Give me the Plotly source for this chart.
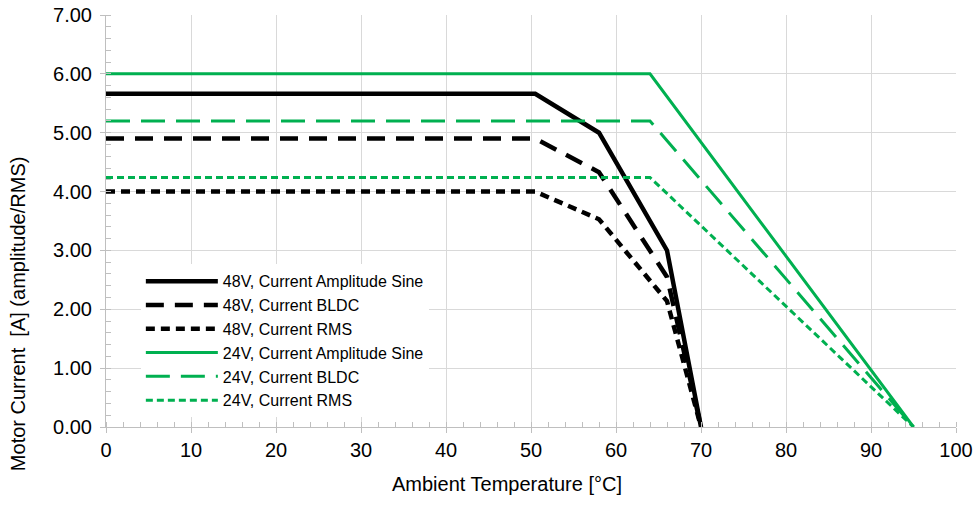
import plotly.graph_objects as go

# Data
temp_48 = [0, 50.5, 58, 66, 70]
amp_48 = [5.66, 5.66, 5.0, 3.0, 0.0]
bldc_48 = [4.90, 4.90, 4.33, 2.55, 0.0]
rms_48 = [4.00, 4.00, 3.53, 2.14, 0.0]

temp_24 = [0, 64, 95]
amp_24 = [6.00, 6.00, 0.0]
bldc_24 = [5.20, 5.20, 0.0]
rms_24 = [4.24, 4.24, 0.0]

names = [
    "48V, Current Amplitude Sine",
    "48V, Current BLDC",
    "48V, Current RMS",
    "24V, Current Amplitude Sine",
    "24V, Current BLDC",
    "24V, Current RMS",
]

BLACK = "#000000"
GREEN = "#00b050"

series = [
    (temp_48, amp_48, names[0], BLACK, 4.5, "solid"),
    (temp_48, bldc_48, names[1], BLACK, 4.5, "18px,11px"),
    (temp_48, rms_48, names[2], BLACK, 4.5, "9px,6px"),
    (temp_24, amp_24, names[3], GREEN, 3, "solid"),
    (temp_24, bldc_24, names[4], GREEN, 3, "24px,11px"),
    (temp_24, rms_24, names[5], GREEN, 3, "7px,4px"),
]

fig = go.Figure()
for x, y, n, c, w, d in series:
    fig.add_trace(go.Scatter(x=x, y=y, name=n, mode="lines",
                             line=dict(color=c, width=w, dash=d)))

FONT = "Liberation Sans, Arial, sans-serif"
fig.update_layout(
    width=975, height=526,
    margin=dict(l=106, r=19, t=15, b=99, autoexpand=False),
    paper_bgcolor="white", plot_bgcolor="white",
    font=dict(family=FONT, color="#000000", size=20),
    showlegend=True,
    legend=dict(x=0.041, y=0.395, xanchor="left", yanchor="top",
                bgcolor="white", borderwidth=0,
                font=dict(size=16, family=FONT), tracegroupgap=0,
                itemwidth=72),
    xaxis=dict(range=[0, 100], dtick=10, tick0=0, automargin=False,
               showgrid=True, gridcolor="#d9d9d9", gridwidth=1,
               showline=True, linecolor="#bfbfbf", linewidth=1,
               ticks="outside", ticklen=5, tickcolor="#bfbfbf",
               minor=dict(dtick=2, ticks="inside", ticklen=5, tickcolor="#bfbfbf", showgrid=False),
               zeroline=False, tickfont=dict(size=20)),
    yaxis=dict(range=[0, 7], dtick=1, tick0=0, tickformat=".2f", automargin=False,
               showgrid=True, gridcolor="#d9d9d9", gridwidth=1,
               showline=True, linecolor="#bfbfbf", linewidth=1,
               ticks="outside", ticklen=5, tickcolor="#bfbfbf",
               ticklabelstandoff=4,
               minor=dict(dtick=0.2, ticks="inside", ticklen=5, tickcolor="#bfbfbf", showgrid=False),
               zeroline=False, tickfont=dict(size=20)),
    annotations=[
        dict(text="Ambient Temperature [°C]", xref="paper", yref="paper",
             x=0.472, y=-0.138, xanchor="center", yanchor="middle",
             showarrow=False, font=dict(size=20)),
        dict(text="Motor Current  [A] (amplitude/RMS)", xref="paper", yref="paper",
             x=-0.1035, y=0.274, xanchor="center", yanchor="middle",
             textangle=-90, showarrow=False, font=dict(size=20)),
    ],
)

fig.write_html("out.html",
               config={"displayModeBar": False},
               post_script="document.body.style.margin='0';document.body.style.padding='0';")
